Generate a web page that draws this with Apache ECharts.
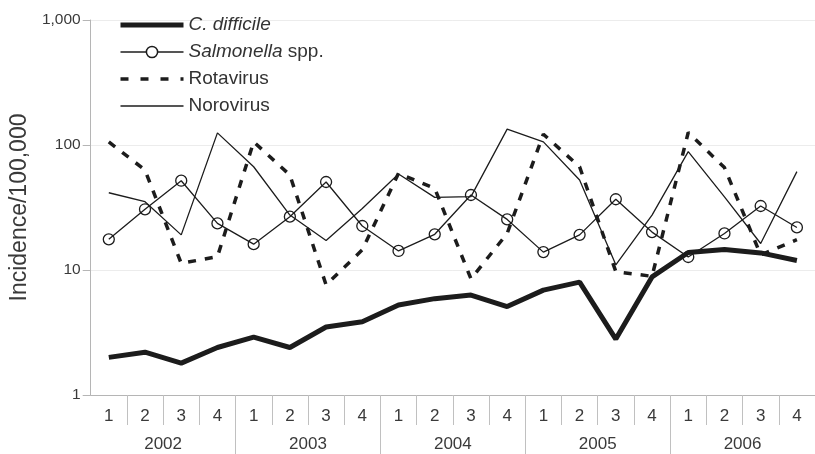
<!DOCTYPE html>
<html>
<head>
<meta charset="utf-8">
<script src="https://cdn.jsdelivr.net/npm/echarts@6/dist/echarts.min.js"></script>
<style>
html,body{margin:0;padding:0;background:#fff;}
#chart{width:815px;height:454px;}
</style>
</head>
<body>
<div id="chart"></div>
<script>
var quarters = ['1','2','3','4','1','2','3','4','1','2','3','4','1','2','3','4','1','2','3','4'];
var years = ['2002','2003','2004','2005','2006'];
var yTickLabels = {1:'1', 10:'10', 100:'100', 1000:'1,000'};

var cDifficile = [2.0, 2.2, 1.8, 2.4, 2.9, 2.4, 3.5, 3.85, 5.25, 5.9, 6.3, 5.1, 6.9, 8.0, 2.8, 8.8, 13.8, 14.6, 13.7, 11.9];
var salmonella = [17.6, 30.6, 51.8, 23.6, 16.1, 26.7, 50.6, 22.5, 14.2, 19.3, 39.8, 25.4, 13.9, 19.1, 36.8, 20.1, 12.7, 19.6, 32.5, 21.9];
var rotavirus = [106, 63, 11.3, 12.8, 106, 57.5, 7.6, 14.5, 59.3, 45, 8.5, 19.6, 122, 67, 9.7, 8.9, 126, 66, 13.2, 17.5];
var norovirus = [41.5, 35.2, 19.1, 125, 67, 27.5, 17.2, 31.1, 58.6, 38.1, 38.6, 134, 106, 52.5, 11.0, 27.5, 88.4, 38.4, 16.3, 61.2];

var ink = '#1c1c1c';
var txt = '#3a3a3a';
var font = '"Liberation Sans", Arial, sans-serif';

var chart = echarts.init(document.getElementById('chart'), null, {renderer: 'canvas'});
chart.setOption({
  animation: false,
  backgroundColor: '#fff',
  textStyle: {fontFamily: font},
  grid: {left: 89, top: 20, width: 733.3, height: 375, containLabel: false},
  legend: {
    orient: 'vertical',
    left: 113,
    top: 10,
    itemWidth: 63,
    itemHeight: 14,
    itemGap: 7,
    textStyle: {
      fontSize: 19, color: '#333', fontFamily: font, lineHeight: 20,
      rich: {
        it: {fontSize: 19, fontStyle: 'italic', color: '#333', fontFamily: font, lineHeight: 20},
        n: {fontSize: 19, color: '#333', fontFamily: font, lineHeight: 20}
      }
    },
    formatter: function (name) {
      if (name === 'C. difficile') return '{it|C. difficile}';
      if (name === 'Salmonella spp.') return '{it|Salmonella}{n| spp.}';
      return '{n|' + name + '}';
    },
    data: [
      {name: 'C. difficile', itemStyle: {opacity: 0}, lineStyle: {width: 5, color: ink}},
      {name: 'Salmonella spp.', itemStyle: {color: '#fff', borderColor: ink, borderWidth: 1.5}, lineStyle: {width: 1.3, color: ink}},
      {name: 'Rotavirus', itemStyle: {opacity: 0}, lineStyle: {width: 3.5, color: ink, type: [8, 12]}},
      {name: 'Norovirus', itemStyle: {opacity: 0}, lineStyle: {width: 1.3, color: ink}}
    ]
  },
  xAxis: [
    {
      type: 'category',
      position: 'bottom',
      data: quarters,
      boundaryGap: true,
      axisLine: {show: true, lineStyle: {color: '#b5b5b5', width: 1}},
      axisTick: {show: true, length: 30, lineStyle: {color: '#c0c0c0'},
        interval: function (i) { return i % 4 !== 0; }},
      axisLabel: {interval: 0, margin: 13, fontSize: 17, color: txt, fontFamily: font}
    },
    {
      type: 'category',
      position: 'bottom',
      data: years,
      boundaryGap: true,
      axisLine: {show: false},
      axisTick: {show: true, length: 60, lineStyle: {color: '#c0c0c0'},
        interval: function (i) { return i !== 0; }},
      axisLabel: {interval: 0, margin: 41, fontSize: 17, color: txt, fontFamily: font}
    }
  ],
  yAxis: {
    type: 'log',
    logBase: 10,
    min: 1,
    max: 1000,
    name: 'Incidence/100,000',
    nameLocation: 'middle',
    nameGap: 57,
    nameRotate: 90,
    nameTextStyle: {fontSize: 23, color: txt, fontFamily: font},
    axisLine: {show: true, lineStyle: {color: '#b5b5b5', width: 1}},
    axisTick: {show: true, length: 8, lineStyle: {color: '#b5b5b5'}},
    splitLine: {show: true, lineStyle: {color: '#ececec', width: 1}},
    minorTick: {show: false},
    axisLabel: {
      fontSize: 15.5, color: txt, margin: 10, fontFamily: font,
      formatter: function (v) { return yTickLabels[Math.round(v)] || ''; }
    }
  },
  series: [
    {
      name: 'C. difficile', type: 'line', data: cDifficile,
      symbol: 'none', lineStyle: {color: ink, width: 5}, itemStyle: {color: ink}, z: 5
    },
    {
      name: 'Salmonella spp.', type: 'line', data: salmonella,
      symbol: 'circle', symbolSize: 11, showSymbol: true,
      lineStyle: {color: ink, width: 1.3},
      itemStyle: {color: 'rgba(255,255,255,0)', borderColor: ink, borderWidth: 1.3}
    },
    {
      name: 'Rotavirus', type: 'line', data: rotavirus,
      symbol: 'none', lineStyle: {color: ink, width: 3.5, type: [8, 9]}, itemStyle: {color: ink}
    },
    {
      name: 'Norovirus', type: 'line', data: norovirus,
      symbol: 'none', lineStyle: {color: ink, width: 1.3}, itemStyle: {color: ink}
    }
  ]
});
</script>
</body>
</html>
